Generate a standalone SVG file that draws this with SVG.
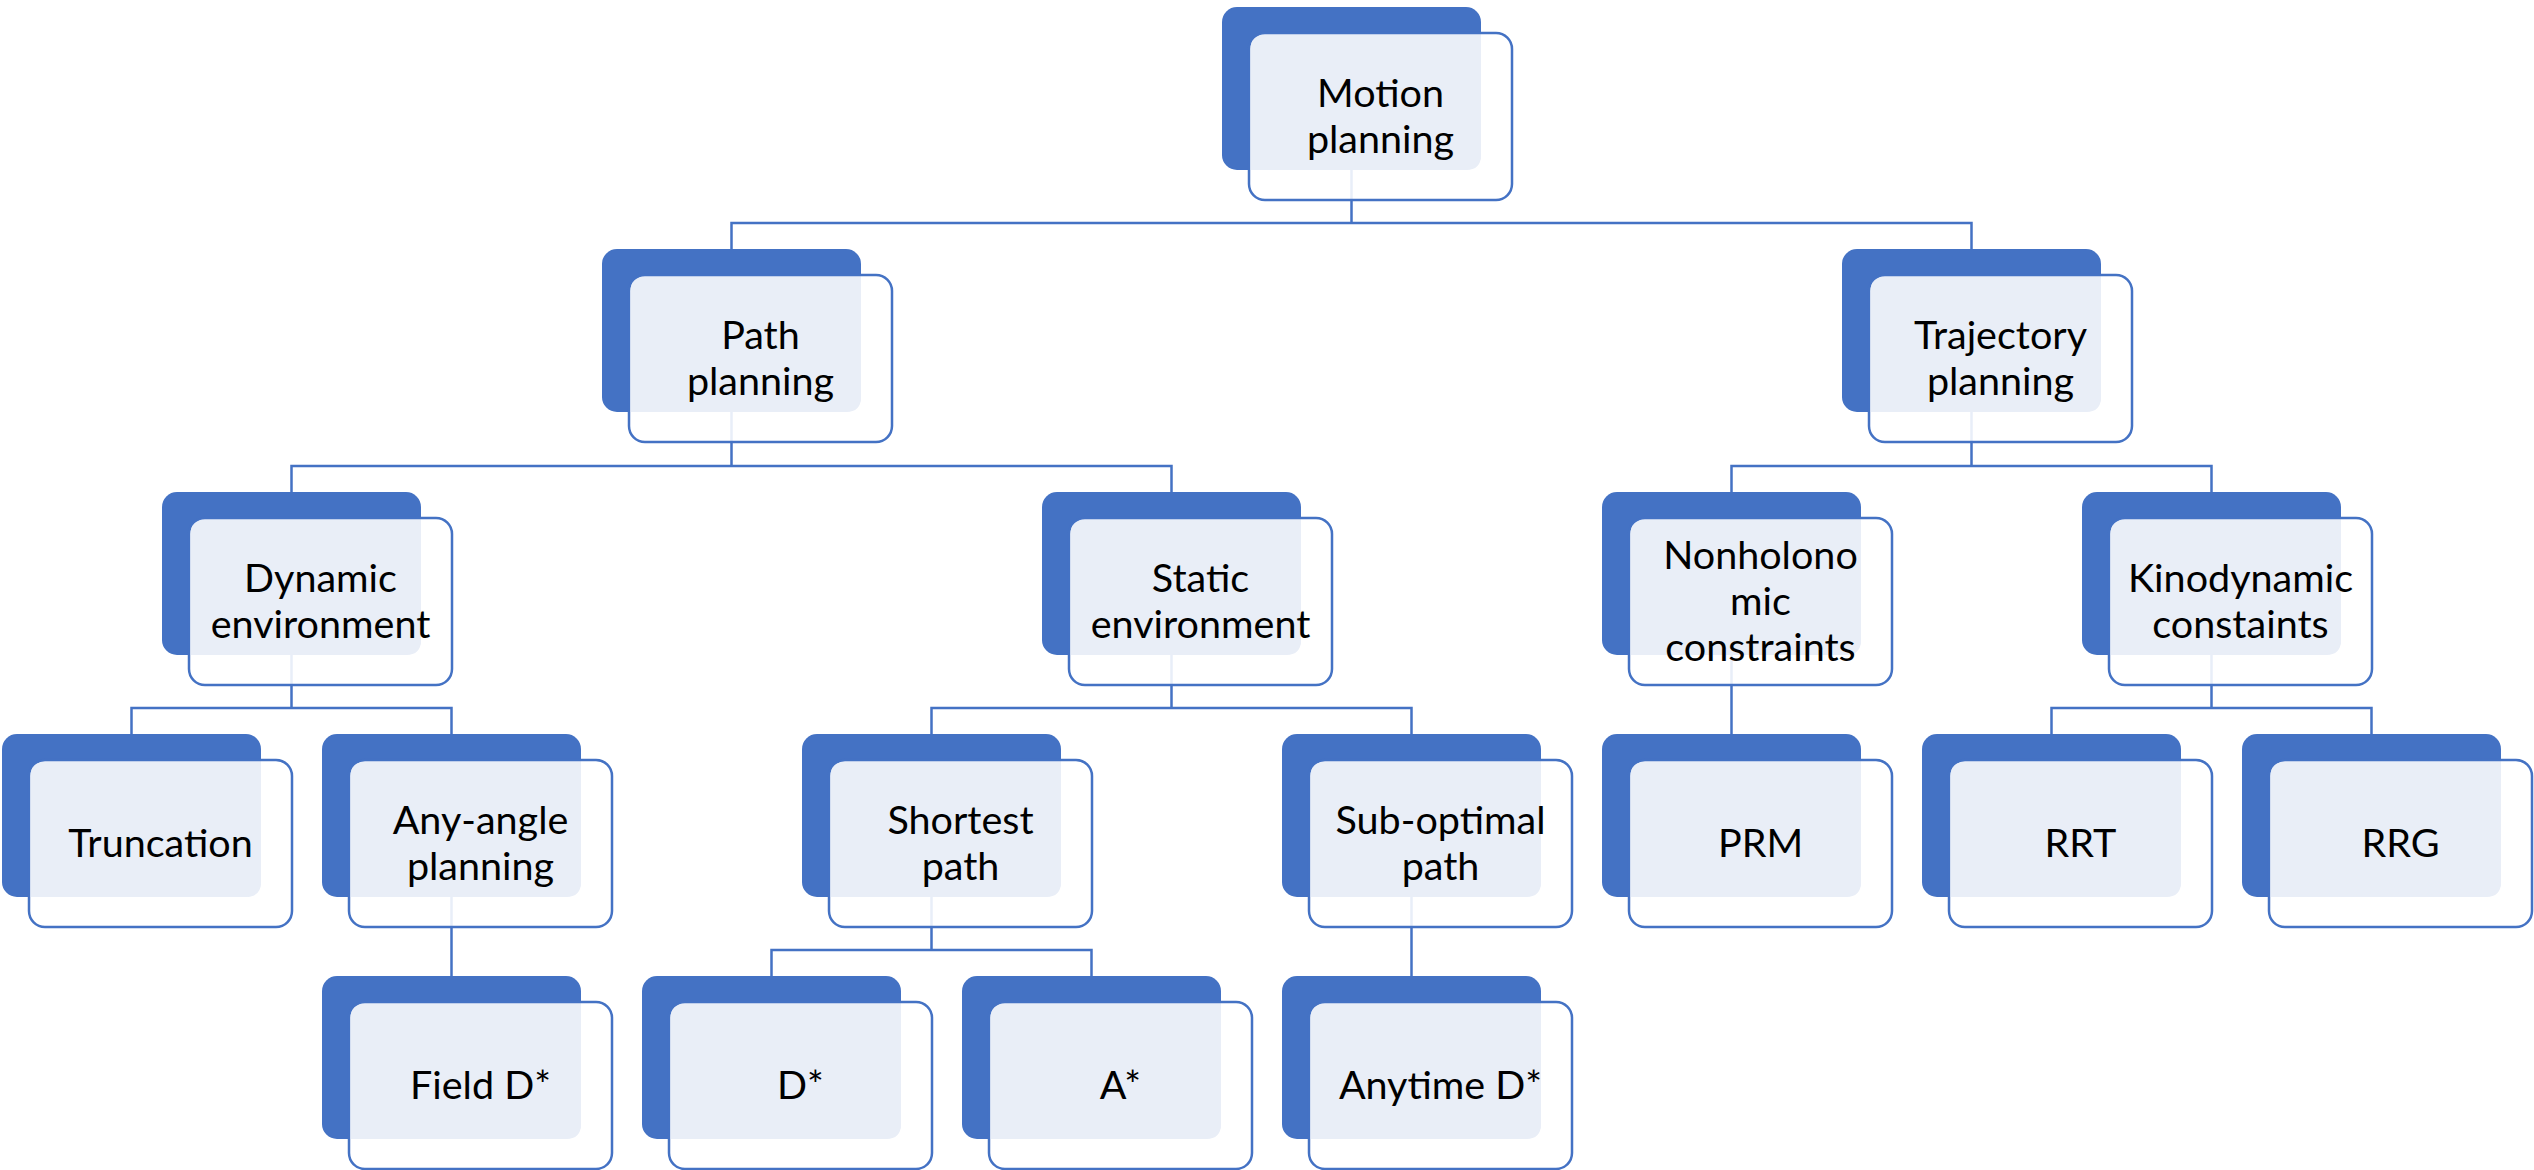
<svg xmlns="http://www.w3.org/2000/svg" xmlns:xlink="http://www.w3.org/1999/xlink" width="2534" height="1170" viewBox="0 0 2534 1170">
<style>
.back{fill:#4472C4;}
.front{fill:#FFFFFF;fill-opacity:0.88;stroke:#4472C4;stroke-width:2.5;}
.face{fill:#E9EEF7;}
.conn{fill:none;stroke:#4472C4;stroke-width:2.5;}
.t{font-family:Lato,"Open Sans","Liberation Sans",sans-serif;font-size:39.5px;fill:#000000;text-anchor:middle;}
</style>
<defs>
<g id="card">
<rect class="back" x="0" y="0" width="259" height="163" rx="15"/>
<rect class="front" x="27" y="26" width="263" height="167" rx="16"/>
<path class="face" d="M43,28 H259 V148 Q259,163 244,163 H28.5 V42.5 Q28.5,28 43,28 Z"/>
</g>
</defs>
<rect width="2534" height="1170" fill="#FFFFFF"/>
<g id="connectors">
<path class="conn" d="M1351.5,170 V223 M731.5,249 V223 H1971.5 V249"/>
<path class="conn" d="M731.5,412 V466 M291.5,492 V466 H1171.5 V492"/>
<path class="conn" d="M1971.5,412 V466 M1731.5,492 V466 H2211.5 V492"/>
<path class="conn" d="M291.5,655 V708 M131.5,734 V708 H451.5 V734"/>
<path class="conn" d="M1171.5,655 V708 M931.5,734 V708 H1411.5 V734"/>
<path class="conn" d="M1731.5,655 V734"/>
<path class="conn" d="M2211.5,655 V708 M2051.5,734 V708 H2371.5 V734"/>
<path class="conn" d="M451.5,897 V976"/>
<path class="conn" d="M931.5,897 V950 M771.5,976 V950 H1091.5 V976"/>
<path class="conn" d="M1411.5,897 V976"/>
</g>
<g id="motion-planning" transform="translate(1222,7)"><use href="#card"/><text class="t" x="158.5" y="99.5">Motion</text><text class="t" x="158.5" y="145.5">planning</text></g>
<g id="path-planning" transform="translate(602,249)"><use href="#card"/><text class="t" x="158.5" y="99.5">Path</text><text class="t" x="158.5" y="145.5">planning</text></g>
<g id="trajectory-planning" transform="translate(1842,249)"><use href="#card"/><text class="t" x="158.5" y="99.5">Trajectory</text><text class="t" x="158.5" y="145.5">planning</text></g>
<g id="dynamic-environment" transform="translate(162,492)"><use href="#card"/><text class="t" x="158.5" y="99.5">Dynamic</text><text class="t" x="158.5" y="145.5">environment</text></g>
<g id="static-environment" transform="translate(1042,492)"><use href="#card"/><text class="t" x="158.5" y="99.5">Static</text><text class="t" x="158.5" y="145.5">environment</text></g>
<g id="nonholonomic-constraints" transform="translate(1602,492)"><use href="#card"/><text class="t" x="158.5" y="76.5">Nonholono</text><text class="t" x="158.5" y="122.5">mic</text><text class="t" x="158.5" y="168.5">constraints</text></g>
<g id="kinodynamic-constaints" transform="translate(2082,492)"><use href="#card"/><text class="t" x="158.5" y="99.5">Kinodynamic</text><text class="t" x="158.5" y="145.5">constaints</text></g>
<g id="truncation" transform="translate(2,734)"><use href="#card"/><text class="t" x="158.5" y="122.5">Truncation</text></g>
<g id="any-angle-planning" transform="translate(322,734)"><use href="#card"/><text class="t" x="158.5" y="99.5">Any-angle</text><text class="t" x="158.5" y="145.5">planning</text></g>
<g id="shortest-path" transform="translate(802,734)"><use href="#card"/><text class="t" x="158.5" y="99.5">Shortest</text><text class="t" x="158.5" y="145.5">path</text></g>
<g id="sub-optimal-path" transform="translate(1282,734)"><use href="#card"/><text class="t" x="158.5" y="99.5">Sub-optimal</text><text class="t" x="158.5" y="145.5">path</text></g>
<g id="prm" transform="translate(1602,734)"><use href="#card"/><text class="t" x="158.5" y="122.5">PRM</text></g>
<g id="rrt" transform="translate(1922,734)"><use href="#card"/><text class="t" x="158.5" y="122.5">RRT</text></g>
<g id="rrg" transform="translate(2242,734)"><use href="#card"/><text class="t" x="158.5" y="122.5">RRG</text></g>
<g id="field-d-star" transform="translate(322,976)"><use href="#card"/><text class="t" x="158.5" y="122.5">Field D*</text></g>
<g id="d-star" transform="translate(642,976)"><use href="#card"/><text class="t" x="158.5" y="122.5">D*</text></g>
<g id="a-star" transform="translate(962,976)"><use href="#card"/><text class="t" x="158.5" y="122.5">A*</text></g>
<g id="anytime-d-star" transform="translate(1282,976)"><use href="#card"/><text class="t" x="158.5" y="122.5">Anytime D*</text></g>
</svg>
